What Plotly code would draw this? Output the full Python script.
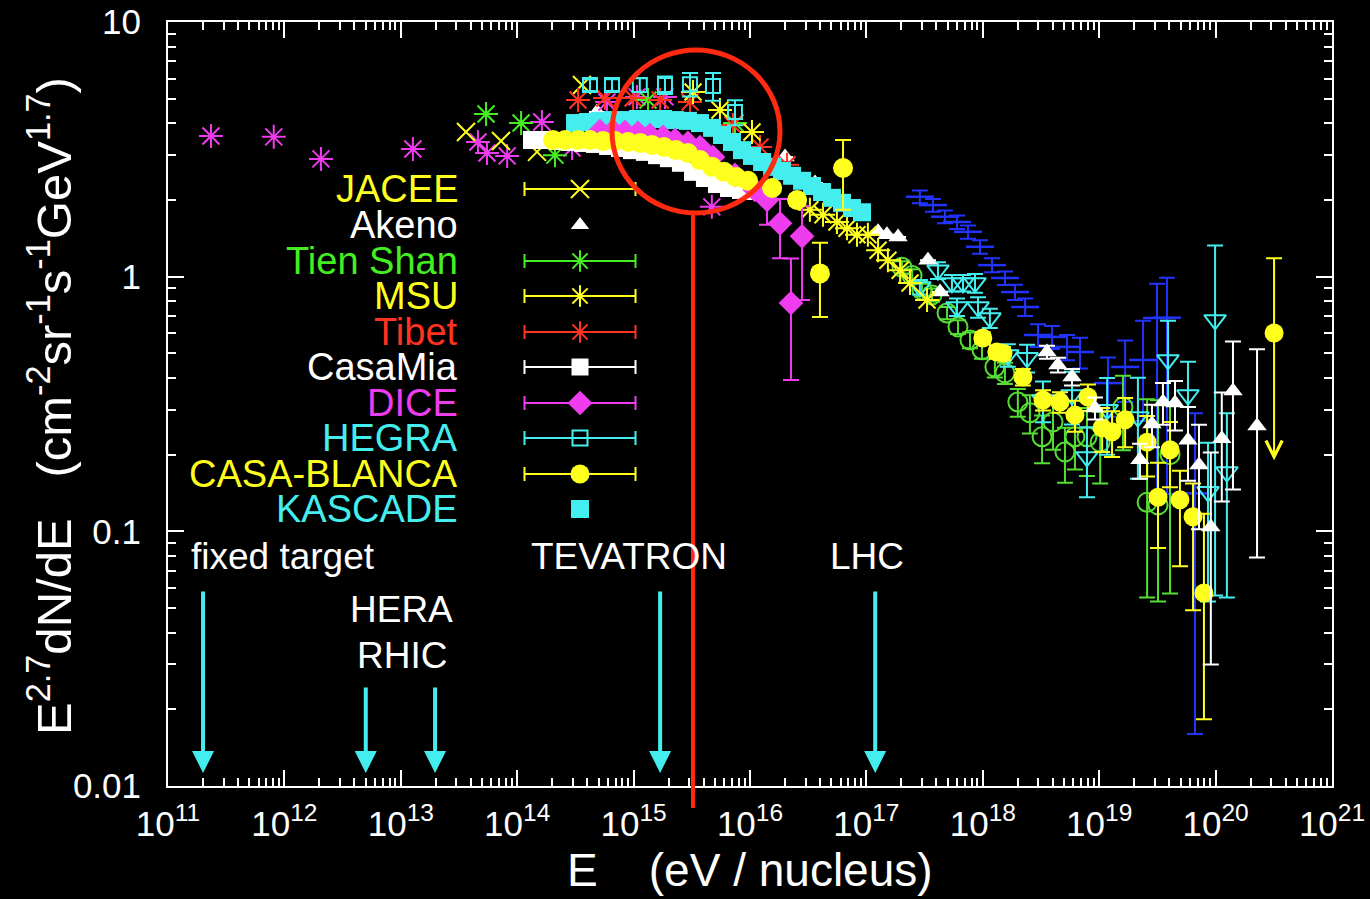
import numpy as np
import plotly.graph_objects as go

# ------------------------------------------------------------------ data
# energies in eV / nucleus, flux as E^2.7 dN/dE
E_direct = [2.34e11, 8.1e11, 2.06e12, 1.27e13, 4.6e13, 5.5e13, 8.2e13, 1.63e14, 2.96e14, 5.9e14, 1.07e15, 1.86e15, 4.7e15]
F_direct = [3.57, 3.54, 2.90, 3.17, 3.38, 3.06, 2.98, 4.05, 3.20, 4.85, 5.08, 5.08, 1.88]

E_jacee = [3.63e13, 7.26e13, 1.48e14, 3.6e14]
F_jacee = [3.70, 3.41, 3.09, 5.66]

E_tienshan = [5.4e13, 1.08e14, 2.11e14, 1.33e15, 7.43e15]
F_tienshan = [4.35, 4.01, 3.00, 4.94, 4.01]

E_msu = [3.24e15, 5.52e15, 1.04e16, 3.27e16, 4.24e16, 5.58e16, 6.81e16, 8.3e16, 1.03e17, 1.26e17, 1.53e17, 1.95e17, 2.37e17, 3.32e17]
F_msu = [5.31, 4.51, 3.70, 1.83, 1.75, 1.64, 1.55, 1.46, 1.46, 1.27, 1.16, 1.06, 0.945, 0.81]

E_tibet = [3.33e14, 5.68e14, 9.9e14, 1.69e15, 3.05e15, 7.14e15, 1.22e16, 2.08e16]
F_tibet = [4.94, 5.03, 5.03, 4.94, 4.85, 3.94, 3.23, 2.75]

E_casamia = [1.34e14, 1.73e14, 2.24e14, 2.84e14, 3.67e14, 4.66e14, 6.03e14, 7.64e14, 9.68e14, 1.25e15,
             1.59e15, 2.01e15, 2.55e15, 3.24e15, 4.10e15, 5.2e15, 6.6e15, 8.37e15, 1.06e16]
F_casamia = [3.44, 3.44, 3.41, 3.38, 3.35, 3.32, 3.26, 3.20, 3.14, 3.09,
             3.00, 2.92, 2.80, 2.58, 2.44, 2.31, 2.23, 2.19, 2.17]

E_dice = [5.14e14, 6.65e14, 8.43e14, 1.09e15, 1.38e15, 1.79e15, 2.27e15, 2.93e15, 3.72e15, 4.81e15,
          7.43e15, 1.10e16, 1.40e16, 1.81e16, 2.25e16, 2.80e16]
F_dice = [3.73, 3.73, 3.70, 3.67, 3.60, 3.54, 3.44, 3.35, 3.23, 2.95,
          2.51, 2.19, 2.00, 1.62, 0.788, 1.44]
Eplus_dice = [0, 0, 0, 0, 0, 0, 0, 0, 0, 0, 0, 0, 0.20, 0.40, 0.39, 0.45]
Eminus_dice = [0, 0, 0, 0, 0, 0, 0, 0, 0, 0, 0, 0, 0.40, 0.44, 0.395, 0.63]

E_hegra = [4.22e14, 6.52e14, 1.13e15, 1.86e15, 3.05e15, 4.81e15, 7.43e15]
F_hegra = [5.66, 5.66, 5.66, 5.66, 5.70, 5.61, 4.43]
Eplus_hegra = [0.30, 0.30, 0.35, 0.45, 0.60, 0.70, 0.50]
Eminus_hegra = [0.30, 0.30, 0.35, 0.45, 0.60, 0.70, 0.50]

E_casablanca = [2.03e14, 2.58e14, 3.33e14, 4.22e14, 5.46e14, 6.92e14, 8.95e14, 1.14e15, 1.44e15, 1.82e15,
                2.31e15, 2.93e15, 3.72e15, 4.72e15, 5.98e15, 7.59e15, 9.62e15, 1.55e16, 2.54e16, 3.99e16, 6.3e16]
F_casablanca = [3.44, 3.44, 3.44, 3.44, 3.41, 3.41, 3.38, 3.35, 3.29, 3.23,
                3.14, 3.06, 2.87, 2.70, 2.58, 2.46, 2.38, 2.23, 2.00, 1.03, 2.67]
Eplus_casablanca = [0] * 17 + [0.10, 0.10, 0.33, 0.77]
Eminus_casablanca = [0] * 17 + [0.10, 0.10, 0.335, 0.84]

E_kascade = [3.14e14, 4.06e14, 5.14e14, 6.65e14, 8.43e14, 1.09e15, 1.38e15, 1.79e15, 2.27e15, 2.93e15,
             3.72e15, 4.72e15, 5.75e15, 7.0e15, 8.53e15, 1.04e16, 1.27e16, 1.55e16, 1.88e16, 2.30e16,
             2.80e16, 3.41e16, 4.16e16, 5.06e16, 6.17e16, 7.52e16, 9.17e16]
F_kascade = [4.01, 4.05, 4.09, 4.12, 4.12, 4.16, 4.16, 4.16, 4.12, 4.09,
             4.01, 3.84, 3.60, 3.38, 3.14, 2.98, 2.82, 2.70, 2.60, 2.49,
             2.38, 2.27, 2.15, 2.04, 1.95, 1.86, 1.79]

E_akeno = [4.85e14, 2.0e16, 2.91e16, 3.62e16, 1.26e17, 1.50e17, 1.87e17, 3.38e17, 4.29e17,
           3.56e18, 4.42e18, 5.84e18, 9.2e18, 2.24e19, 2.84e19, 3.53e19, 4.48e19, 5.79e19,
           7.2e19, 9.1e19, 1.13e20, 1.41e20, 2.27e20]
F_akeno = [4.43, 2.95, 2.35, 2.33, 1.50, 1.46, 1.43, 1.16, 0.87,
           0.506, 0.45, 0.404, 0.305, 0.191, 0.264, 0.322, 0.319, 0.228,
           0.182, 0.104, 0.231, 0.356, 0.259]
Eplus_akeno = [0] * 9 + [0.03, 0.03, 0.03, 0.03, 0.03, 0.05, 0.06, 0.07, 0.08, 0.08, 0.10, 0.12, 0.20, 0.26]
Eminus_akeno = [0] * 9 + [0.03, 0.03, 0.03, 0.03, 0.03, 0.05, 0.06, 0.07, 0.07, 0.08, 0.074, 0.10, 0.21, 0.18]

E_gcirc = [2.02e17, 2.47e17, 3.0e17, 3.66e17, 4.93e17, 6.12e17, 7.76e17, 9.84e17, 1.27e18, 1.55e18, 2.0e18,
           2.54e18, 3.23e18, 4.01e18, 5.08e18, 6.19e18, 7.85e18, 1.02e19, 1.6e19, 2.58e19, 3.2e19, 4.06e19]
F_gcirc = [1.09, 1.01, 0.887, 0.848, 0.72, 0.635, 0.564, 0.516, 0.442, 0.419, 0.322,
           0.292, 0.235, 0.269, 0.205, 0.235, 0.235, 0.224, 0.308, 0.130, 0.127, 0.200]
Eplus_gcirc = [0.06, 0.06, 0.05, 0.05, 0.04, 0.04, 0.04, 0.04, 0.04, 0.04, 0.04,
               0.05, 0.05, 0.06, 0.05, 0.06, 0.07, 0.07, 0.10, 0.20, 0.20, 0.12]
Eminus_gcirc = [0.06, 0.06, 0.05, 0.05, 0.04, 0.04, 0.04, 0.04, 0.04, 0.04, 0.04,
                0.05, 0.05, 0.06, 0.05, 0.06, 0.07, 0.07, 0.10, 0.075, 0.074, 0.143]

E_ctri = [2.88e17, 4.12e17, 5.43e17, 6.0e17, 6.76e17, 8.57e17, 9.1e17, 1.15e18, 1.64e18, 2.4e18,
          3.29e18, 5.84e18, 7.85e18, 1.17e19, 2.15e19, 3.9e19, 5.79e19, 8.6e19, 9.9e19, 1.25e20]
F_ctri = [0.911, 1.06, 0.945, 0.76, 0.945, 0.945, 0.76, 0.688, 0.493, 0.48,
          0.328, 0.343, 0.196, 0.30, 0.281, 0.471, 0.343, 0.143, 0.676, 0.171]
Eplus_ctri = [0.06, 0.08, 0.07, 0.06, 0.07, 0.08, 0.07, 0.06, 0.05, 0.06,
              0.06, 0.08, 0.06, 0.10, 0.12, 0.20, 0.12, 0.08, 0.65, 0.12]
Eminus_ctri = [0.06, 0.08, 0.07, 0.06, 0.07, 0.08, 0.07, 0.06, 0.05, 0.06,
               0.06, 0.08, 0.06, 0.10, 0.12, 0.15, 0.12, 0.09, 0.62, 0.116]

E_blue = [2.88e17, 3.73e17, 4.73e17, 6.0e17, 7.46e17, 9.46e17, 1.2e18, 1.55e18, 1.89e18, 2.31e18,
          2.98e18, 3.94e18, 5.29e18, 6.84e18, 1.19e19, 1.67e19, 2.38e19, 3.14e19, 3.82e19, 6.65e19]
F_blue = [2.06, 1.91, 1.72, 1.64, 1.50, 1.31, 1.11, 0.988, 0.87, 0.76,
          0.59, 0.58, 0.53, 0.506, 0.382, 0.442, 0.471, 0.688, 0.69, 0.141]
Eplus_blue = [0.12, 0.11, 0.10, 0.10, 0.09, 0.08, 0.07, 0.06, 0.06, 0.06,
              0.06, 0.06, 0.06, 0.07, 0.10, 0.12, 0.20, 0.25, 0.30, 0.15]
Eminus_blue = [0.12, 0.11, 0.10, 0.10, 0.09, 0.08, 0.07, 0.06, 0.06, 0.06,
               0.06, 0.06, 0.06, 0.07, 0.10, 0.12, 0.20, 0.55, 0.55, 0.125]

E_ycirc = [1.0e18, 1.32e18, 1.49e18, 2.21e18, 3.29e18, 4.6e18, 6.19e18, 8.0e18, 1.06e19, 1.29e19,
           1.67e19, 2.58e19, 3.2e19, 4.06e19, 4.94e19, 6.4e19, 7.94e19, 3.18e20]
F_ycirc = [0.574, 0.506, 0.50, 0.404, 0.328, 0.322, 0.286, 0.337, 0.255, 0.246,
           0.274, 0.224, 0.136, 0.209, 0.133, 0.114, 0.0573, 0.601]
Eplus_ycirc = [0.03, 0.03, 0.03, 0.03, 0.03, 0.03, 0.04, 0.04, 0.05, 0.05,
               0.06, 0.06, 0.05, 0.06, 0.04, 0.04, 0.06, 0.58]
Eminus_ycirc = [0.03, 0.03, 0.03, 0.03, 0.03, 0.03, 0.04, 0.04, 0.05, 0.05,
                0.06, 0.06, 0.05, 0.06, 0.06, 0.065, 0.039, 0.0]
upper_limit_E = 3.18e20
upper_limit_to = 0.19

accel_names = ["fixed target", "HERA", "RHIC", "TEVATRON", "LHC"]
accel_E = [2.0e11, 5.0e12, 1.97e13, 1.69e15, 1.19e17]

legend_names = ["JACEE", "Akeno", "Tien Shan", "MSU", "Tibet", "CasaMia", "DICE", "HEGRA", "CASA-BLANCA", "KASCADE"]

x_tick_exponents = list(range(11, 22))
y_tick_values = [0.01, 0.1, 1, 10]
y_tick_labels = ["0.01", "0.1", "1", "10"]

# ------------------------------------------------------------------ style
YEL = "#ffff1e"
WHT = "#ffffff"
GRN = "#44ee22"
GRN2 = "#55dd33"
RED = "#ff3320"
MAG = "#ee3cee"
CYN = "#44eeee"
BLU = "#2233ff"
FONT = "Liberation Sans"

W, H = 1370, 899
L, R, T, B = 168, 1332, 22, 786


def px(x):
    return (x - L) / (R - L)


def py(y):
    return (B - y) / (B - T)


fig = go.Figure()


def add(E, F, color, symbol, size, lw=2.0, ep=None, em=None, filled=False):
    marker = dict(symbol=symbol, size=size, color=color,
                  line=dict(color=color, width=(0 if filled else lw)))
    kw = {}
    if ep is not None:
        kw["error_y"] = dict(type="data", symmetric=False, array=ep, arrayminus=em,
                             color=color, thickness=2, width=8)
    fig.add_trace(go.Scatter(x=E, y=F, mode="markers", marker=marker,
                             showlegend=False, cliponaxis=True, **kw))


# high energy sets
add(E_blue, F_blue, BLU, "line-ew-open", 20, 2.5, Eplus_blue, Eminus_blue)
add(E_gcirc, F_gcirc, GRN2, "circle-open", 19, 2, Eplus_gcirc, Eminus_gcirc)
add(E_ctri, F_ctri, CYN, "triangle-down-open", 19, 2, Eplus_ctri, Eminus_ctri)
add(E_ycirc, F_ycirc, YEL, "circle", 19, ep=Eplus_ycirc, em=Eminus_ycirc, filled=True)
add(E_akeno, F_akeno, WHT, "triangle-up", 17, ep=Eplus_akeno, em=Eminus_akeno, filled=True)
# knee region
add(E_direct, F_direct, MAG, "asterisk-open", 20, 2)
add(E_tienshan, F_tienshan, GRN, "asterisk-open", 20, 2)
add(E_jacee, F_jacee, YEL, "x-thin-open", 18, 2)
add(E_tibet, F_tibet, RED, "asterisk-open", 20, 2)
add(E_msu, F_msu, YEL, "asterisk-open", 20, 2)
add(E_hegra, F_hegra, CYN, "square-open", 14, 2, Eplus_hegra, Eminus_hegra)
add(E_kascade, F_kascade, CYN, "square", 18, filled=True)
add(E_casamia, F_casamia, WHT, "square", 18, filled=True)
add(E_dice, F_dice, MAG, "diamond", 19, ep=Eplus_dice, em=Eminus_dice, filled=True)
add(E_casablanca, F_casablanca, YEL, "circle", 20, ep=Eplus_casablanca, em=Eminus_casablanca, filled=True)

# ------------------------------------------------------------------ legend keys (overlay axes in plot fractions)
legend_style = [
    (YEL, "x-thin-open", 18, True, False),
    (WHT, "triangle-up", 16, False, True),
    (GRN, "asterisk-open", 18, True, False),
    (YEL, "asterisk-open", 18, True, False),
    (RED, "asterisk-open", 18, True, False),
    (WHT, "square", 17, True, True),
    (MAG, "diamond", 19, True, True),
    (CYN, "square-open", 15, True, False),
    (YEL, "circle", 19, True, True),
    (CYN, "square", 18, False, True),
]
legend_ypx = [189, 225, 261, 296, 332, 367, 403, 438, 474, 509]
key_x = px(580)
key_half = (636 - 525) / 2 / (R - L)
label_x = px(460)
for name, (col, sym, sz, bar, filled), ypix in zip(legend_names, legend_style, legend_ypx):
    kw = {}
    if bar:
        kw["error_x"] = dict(type="constant", value=key_half, color=col, thickness=2, width=7)
    fig.add_trace(go.Scatter(x=[key_x], y=[py(ypix)], xaxis="x2", yaxis="y2", mode="markers",
                             marker=dict(symbol=sym, size=sz, color=col,
                                         line=dict(color=col, width=0 if filled else 2)),
                             showlegend=False, **kw))
    fig.add_annotation(x=label_x, y=py(ypix), xref="paper", yref="paper", text=name,
                       showarrow=False, xanchor="right", yanchor="middle",
                       font=dict(family=FONT, size=38, color=col))

# ------------------------------------------------------------------ accelerator arrows
accel_text_pos = [(189, 556), (348, 609), (355, 655), (529, 556), (828, 556)]
accel_tail = [590, 686, 686, 590, 590]
for nm, e, (tx, ty), tail in zip(accel_names, accel_E, accel_text_pos, accel_tail):
    fig.add_annotation(x=px(tx), y=py(ty), xref="paper", yref="paper", text=nm, showarrow=False,
                       xanchor="left", yanchor="middle", font=dict(family=FONT, size=37, color=WHT))
    fig.add_annotation(x=np.log10(e), y=py(773), xref="x", yref="paper", text="",
                       showarrow=True, ax=0, ay=tail - 773, arrowcolor=CYN, arrowwidth=4,
                       arrowhead=2, arrowsize=1.1)

# upper-limit arrow
fig.add_annotation(x=np.log10(upper_limit_E), y=np.log10(upper_limit_to), xref="x", yref="y",
                   text="", showarrow=True, ax=0,
                   ay=-(np.log10(F_ycirc[-1]) - np.log10(upper_limit_to)) * (B - T) / 3,
                   arrowcolor=YEL, arrowwidth=2, arrowhead=5, arrowsize=1.6)

# axis titles
fig.add_annotation(x=px(50), y=py(406), xref="paper", yref="paper", textangle=-90,
                   text="E<sup>2.7</sup>dN/dE\u00a0\u00a0\u00a0(cm<sup>-2</sup>sr<sup>-1</sup>s<sup>-1</sup>GeV<sup>1.7</sup>)",
                   showarrow=False, xanchor="center", yanchor="middle",
                   font=dict(family=FONT, size=49, color=WHT))
fig.add_annotation(x=px(750), y=py(870), xref="paper", yref="paper",
                   text="E\u00a0\u00a0\u00a0\u00a0(eV / nucleus)",
                   showarrow=False, xanchor="center", yanchor="middle",
                   font=dict(family=FONT, size=46, color=WHT))

# red circle and line
fig.add_shape(type="circle", xref="paper", yref="paper", x0=px(612), x1=px(780), y0=py(213), y1=py(50),
              line=dict(color="#ff2a10", width=5))
fig.add_shape(type="line", xref="paper", yref="paper", x0=px(693), x1=px(693), y0=py(213), y1=py(808),
              line=dict(color="#ff2a10", width=4))

minor_x = [m * 10.0 ** k for k in range(11, 21) for m in range(2, 10)]
minor_y = [m * 10.0 ** k for k in range(-2, 1) for m in range(2, 10)]

axis_common = dict(type="log", showgrid=False, zeroline=False, showline=True, linecolor=WHT,
                   linewidth=2, mirror="ticks", ticks="inside", tickcolor=WHT, tickwidth=2,
                   ticklen=16, tickmode="array", tickfont=dict(family=FONT, size=35, color=WHT))

fig.update_layout(
    width=W, height=H,
    margin=dict(l=L, r=W - R, t=T, b=H - B, autoexpand=False),
    paper_bgcolor="black", plot_bgcolor="black",
    font=dict(family=FONT, color=WHT),
    xaxis=dict(range=[11, 21], ticklabelstandoff=6,
               tickvals=[10.0 ** k for k in x_tick_exponents],
               ticktext=["10<sup>%d</sup>" % k for k in x_tick_exponents],
               minor=dict(ticks="inside", ticklen=8, tickwidth=1.5, tickcolor=WHT,
                          tickmode="array", tickvals=minor_x, showgrid=False),
               **axis_common),
    yaxis=dict(range=[-2, 1], ticklabelstandoff=18,
               tickvals=y_tick_values, ticktext=y_tick_labels,
               minor=dict(ticks="inside", ticklen=8, tickwidth=1.5, tickcolor=WHT,
                          tickmode="array", tickvals=minor_y, showgrid=False),
               **axis_common),
    xaxis2=dict(range=[0, 1], overlaying="x", visible=False, fixedrange=True),
    yaxis2=dict(range=[0, 1], overlaying="y", visible=False, fixedrange=True),
)

fig.write_html("out.html", config={"displayModeBar": False},
               post_script="document.body.style.margin='0';document.body.style.background='black';"
                           "document.documentElement.style.background='black';")
